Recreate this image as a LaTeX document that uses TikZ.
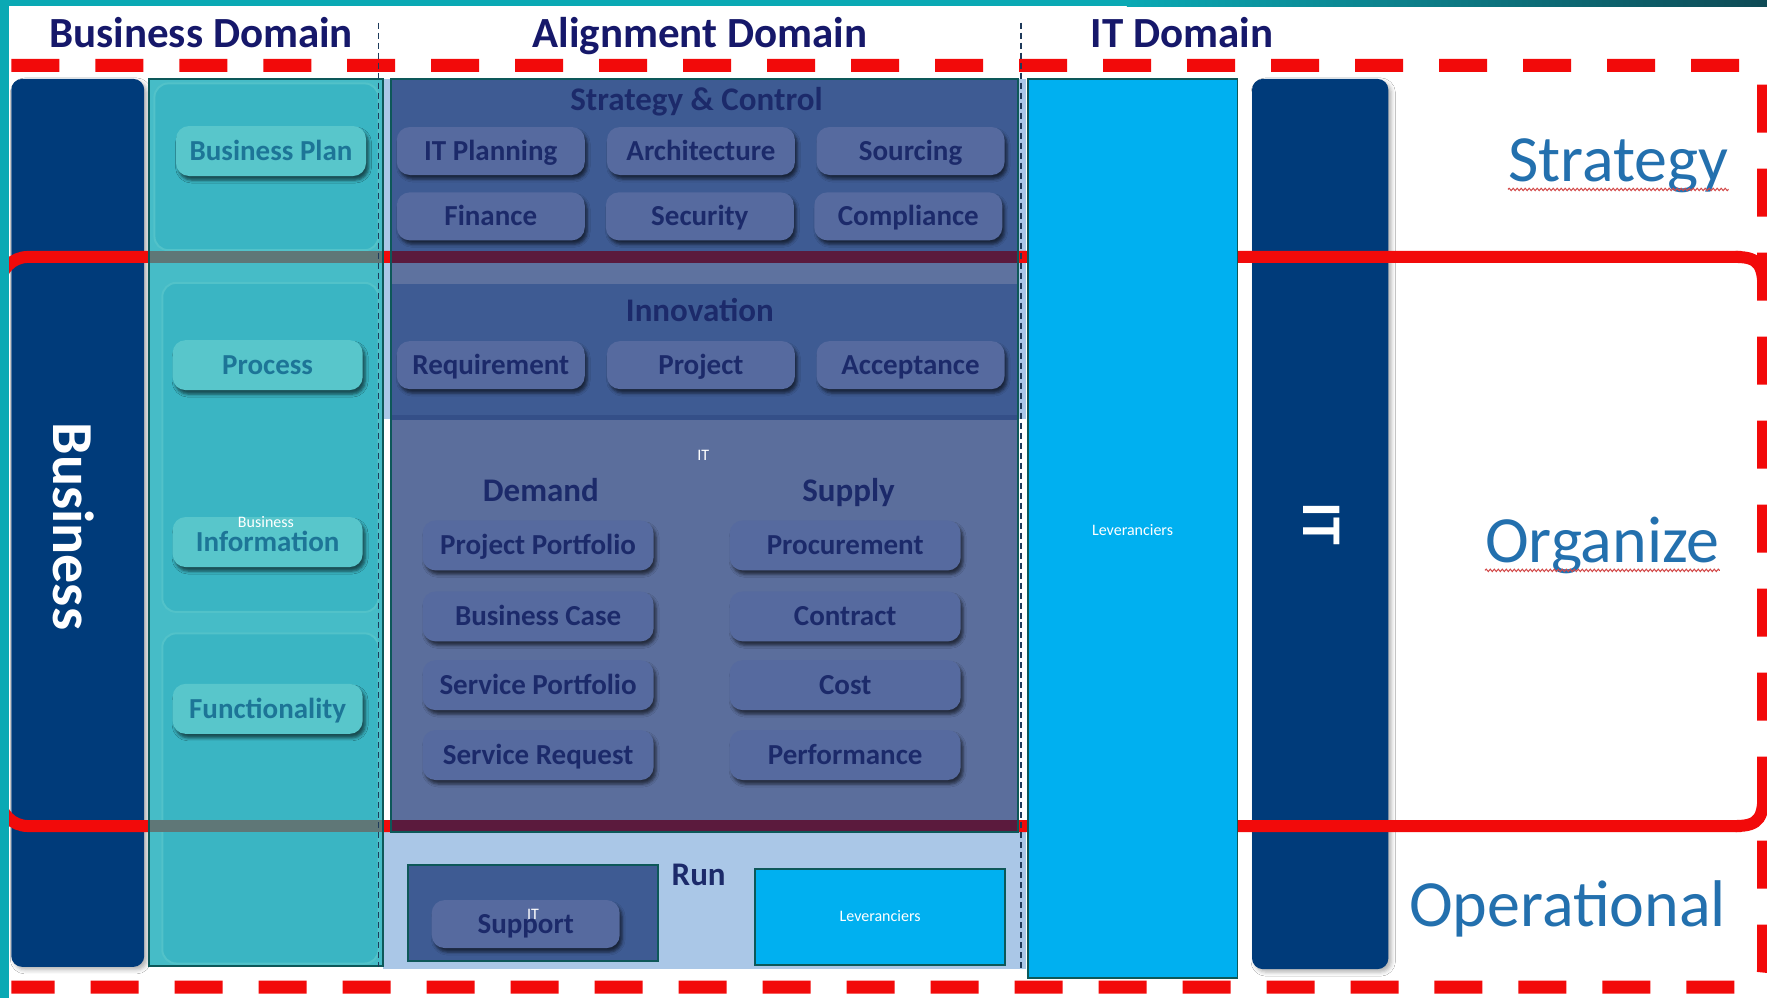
\documentclass[tikz,border=0pt]{standalone}
\usepackage{fontspec}
\setmainfont{Carlito}
\usetikzlibrary{fit,shadows.blur,decorations.pathmorphing}

\definecolor{stripTeal}{HTML}{0AA9B4}
\definecolor{stripDark}{HTML}{0E4A55}
\definecolor{navyBar}{HTML}{003B7A}
\definecolor{headTxt}{HTML}{16186A}
\definecolor{frameRed}{HTML}{F20A0A}
\definecolor{tealCol}{HTML}{46BCC7}
\definecolor{tealPanel}{HTML}{3AB5C3}
\definecolor{tealEdge}{HTML}{52C2C9}
\definecolor{tealBtn}{HTML}{58C6CB}
\definecolor{tealTxt}{HTML}{1D7597}
\definecolor{boxEdge}{HTML}{0D5859}
\definecolor{secDark}{HTML}{3E5B93}
\definecolor{secLight}{HTML}{5B6E9C}
\definecolor{secShadow}{HTML}{344F88}
\definecolor{stripeLight}{HTML}{5E729F}
\definecolor{btnBlue}{HTML}{566A9F}
\definecolor{btnTxt}{HTML}{1C2A6A}
\definecolor{greyBand}{HTML}{5F7777}
\definecolor{maroonBand}{HTML}{5B1A3D}
\definecolor{runBg}{HTML}{AAC7E7}
\definecolor{levBlue}{HTML}{00B0F0}
\definecolor{labelBlue}{HTML}{2370AE}
\definecolor{squiggle}{HTML}{D24848}
\definecolor{sepDash}{HTML}{1E3A5A}

\newcommand\hdrfont{\fontsize{43}{46}\selectfont\bfseries}
\newcommand\ttlfont{\fontsize{33}{36}\selectfont\bfseries}
\newcommand\btnfont{\fontsize{29}{31}\selectfont\bfseries}
\newcommand\whitesmallfont{\fontsize{16}{18}\selectfont}
\newcommand\barfont{\fontsize{58}{62}\selectfont\bfseries}
\newcommand\lblfont{\fontsize{66}{70}\selectfont}

\tikzset{
  panel/.style={inner sep=0pt, outer sep=0pt},
  navybar/.style={panel, fill=navyBar, rounded corners=11pt,
    blur shadow={shadow xshift=3pt, shadow yshift=-3pt, shadow blur radius=4pt, shadow opacity=30}},
  bluebtn/.style={fill=btnBlue, rounded corners=13pt, minimum width=188pt, minimum height=48pt,
    text=btnTxt, font=\btnfont, text height=18.5pt, text depth=0pt, inner sep=0pt,
    blur shadow={shadow xshift=2.5pt, shadow yshift=-4pt, shadow blur radius=3pt, shadow opacity=60}},
  widebtn/.style={bluebtn, minimum width=231pt, minimum height=50pt},
  tealbtn/.style={bluebtn, fill=tealBtn, text=tealTxt, minimum width=190pt, minimum height=50pt,
    blur shadow={shadow xshift=2.5pt, shadow yshift=-4pt, shadow blur radius=3pt, shadow opacity=35}},
  secttitle/.style={text=btnTxt, font=\ttlfont, inner sep=0pt, anchor=base},
  header/.style={text=headTxt, font=\hdrfont, inner sep=0pt, anchor=base},
  rightlabel/.style={text=labelBlue, font=\lblfont, inner sep=0pt, anchor=base},
  whitetxt/.style={text=white, font=\whitesmallfont, inner sep=0pt},
  bartext/.style={text=white, font=\barfont, rotate=-90, inner sep=0pt},
  solidred/.style={draw=frameRed, line width=12pt, rounded corners=28pt},
  dashred/.style={draw=frameRed, line width=13pt, dash pattern=on 48pt off 36pt, rounded corners=18pt},
  sepline/.style={draw=sepDash, line width=1.6pt, dash pattern=on 6pt off 4pt},
  squig/.style={draw=squiggle, line width=1pt, decorate,
    decoration={snake, amplitude=1.2pt, segment length=4pt}}
}

\begin{document}
\begin{tikzpicture}[x=1.127pt, y=-1.127pt]
\useasboundingbox (0,0) rectangle (1568,886);
\fill[white] (0,0) rectangle (1568,886);

% top edge strip
\fill[stripTeal] (0,0) rectangle (1000,5.5);
\shade[left color=stripTeal, right color=stripDark] (1000,0) rectangle (1568,5.5);

% the two side bars
\node[navybar, fit={(10,70) (128,858)}] (bizbar) {};
\node[navybar, fit={(1111,70) (1232,860)}] (itbar) {};

% light backdrop of the alignment column
\fill[runBg] (340,70) rectangle (910,372);
\fill[runBg] (340,737) rectangle (910,860);

% organize band (solid) and outer frame (dashed)
\draw[solidred] (0,330) -- (0,228) -- (1545,228);
\draw[solidred] (0,630) -- (0,733) -- (1545,733);
\draw[draw=frameRed, line width=12pt] (1540,228) .. controls (1562,228) and (1565,236) .. (1565,262);
\draw[draw=frameRed, line width=12pt] (1540,733) .. controls (1562,733) and (1565,725) .. (1565,700);
\draw[dashred] (10,58) -- (1565,58) -- (1565,876) -- (10,876);

% left edge strip
\fill[stripTeal] (0,0) rectangle (8,886);

% business column
\node[panel, fill=tealCol, fit={(132,70) (340,857)}] (tealcol) {};
\draw[tealEdge, fill=tealPanel, line width=2pt, rounded corners=14pt] (137,74) rectangle (336,222);
\draw[tealEdge, fill=tealPanel, line width=2pt, rounded corners=14pt] (144,251) rectangle (336,543);
\draw[tealEdge, fill=tealPanel, line width=2pt, rounded corners=14pt] (144,562) rectangle (336,855);
\fill[greyBand] (132,223) rectangle (340,233);
\fill[greyBand] (132,728) rectangle (340,738);
\draw[boxEdge, line width=2pt] (tealcol.north west) rectangle (tealcol.south east);

% alignment box with its sections
\node[panel, fill=secLight, fit={(347,70) (903,738)}] (alignbox) {};
\fill[secDark] (347,70) rectangle (903,223);
\fill[maroonBand] (347,223) rectangle (903,233);
\fill[stripeLight] (347,233) rectangle (903,252);
\fill[secDark] (347,252) rectangle (903,368);
\fill[secShadow] (347,368) rectangle (903,373);
\fill[maroonBand] (347,728) rectangle (903,737);
\draw[boxEdge, line width=2pt] (alignbox.north west) rectangle (alignbox.south east);

% supplier column
\node[panel, fill=levBlue, draw=boxEdge, line width=1.5pt, fit={(912,70) (1098,868)}] (levcol) {};
\node[whitetxt] (levtxt) at (1005,470) {Leveranciers};

% run section
\node[panel, fill=secDark, draw=boxEdge, line width=2pt, fit={(362,768) (584,853)}] (itrun) {};
\node[panel, fill=levBlue, draw=boxEdge, line width=2pt, fit={(670,771) (892,856)}] (levrun) {};
\node[whitetxt] (levruntxt) at (781,813) {Leveranciers};
\node[secttitle] (run) at (620,786) {Run};
\node[bluebtn] (support) at (466.5,820) {Support};
\node[whitetxt] (itsmall2) at (473,811) {IT};

% bar labels
\node[bartext] (biztxt) at (65,467) {Business};
\node[bartext, font=\fontsize{56}{60}\selectfont\bfseries] (ittxt) at (1173,465) {IT};

% business buttons
\node[tealbtn] (bplan) at (240.5,134) {Business Plan};
\node[tealbtn] (process) at (237.5,324) {Process};
\node[tealbtn] (info) at (237.5,481) {Information};
\node[whitetxt] (bizsmall) at (236,463) {Business};
\node[tealbtn] (func) at (237.5,629) {Functionality};

% strategy & control
\node[secttitle] (stratctl) at (618,98) {Strategy \& Control};
\node[bluebtn] (itplan) at (435.5,134) {IT Planning};
\node[bluebtn] (arch) at (622,134) {Architecture};
\node[bluebtn] (sourcing) at (808,134) {Sourcing};
\node[bluebtn] (finance) at (435.5,192) {Finance};
\node[bluebtn] (security) at (621,192) {Security};
\node[bluebtn] (compliance) at (806,192) {Compliance};

% innovation
\node[secttitle] (innov) at (621,285) {Innovation};
\node[bluebtn] (requirement) at (435.5,324) {Requirement};
\node[bluebtn] (project) at (622,324) {Project};
\node[bluebtn] (acceptance) at (808,324) {Acceptance};

% demand and supply
\node[whitetxt] (itsmall1) at (624,404) {IT};
\node[secttitle] (demand) at (480,445) {Demand};
\node[secttitle] (supply) at (753,445) {Supply};
\node[widebtn] (pportfolio) at (477.5,484) {Project Portfolio};
\node[widebtn] (bcase) at (477.5,547) {Business Case};
\node[widebtn] (sportfolio) at (477.5,608) {Service Portfolio};
\node[widebtn] (srequest) at (477.5,670) {Service Request};
\node[widebtn] (procurement) at (750,484) {Procurement};
\node[widebtn] (contract) at (750,547) {Contract};
\node[widebtn] (cost) at (750,608) {Cost};
\node[widebtn] (performance) at (750,670) {Performance};

% domain separators
\draw[sepline] (336,20) -- (336,858);
\draw[sepline] (906,20) -- (906,862);

% domain headers
\node[header] (hbiz) at (178.5,42) {Business Domain};
\node[header] (halign) at (621,42) {Alignment Domain};
\node[header] (hit) at (1049,42) {IT Domain};

% layer labels
\node[rightlabel] (lstrat) at (1436,161) {Strategy};
\node[rightlabel] (lorg) at (1422,499) {Organize};
\node[rightlabel] (lops) at (1391,822) {Operational};
\draw[squig] ([yshift=-8pt]lstrat.base west) -- ([yshift=-8pt]lstrat.base east);
\draw[squig] ([yshift=-8pt]lorg.base west) -- ([yshift=-8pt]lorg.base east);
\end{tikzpicture}
\end{document}
